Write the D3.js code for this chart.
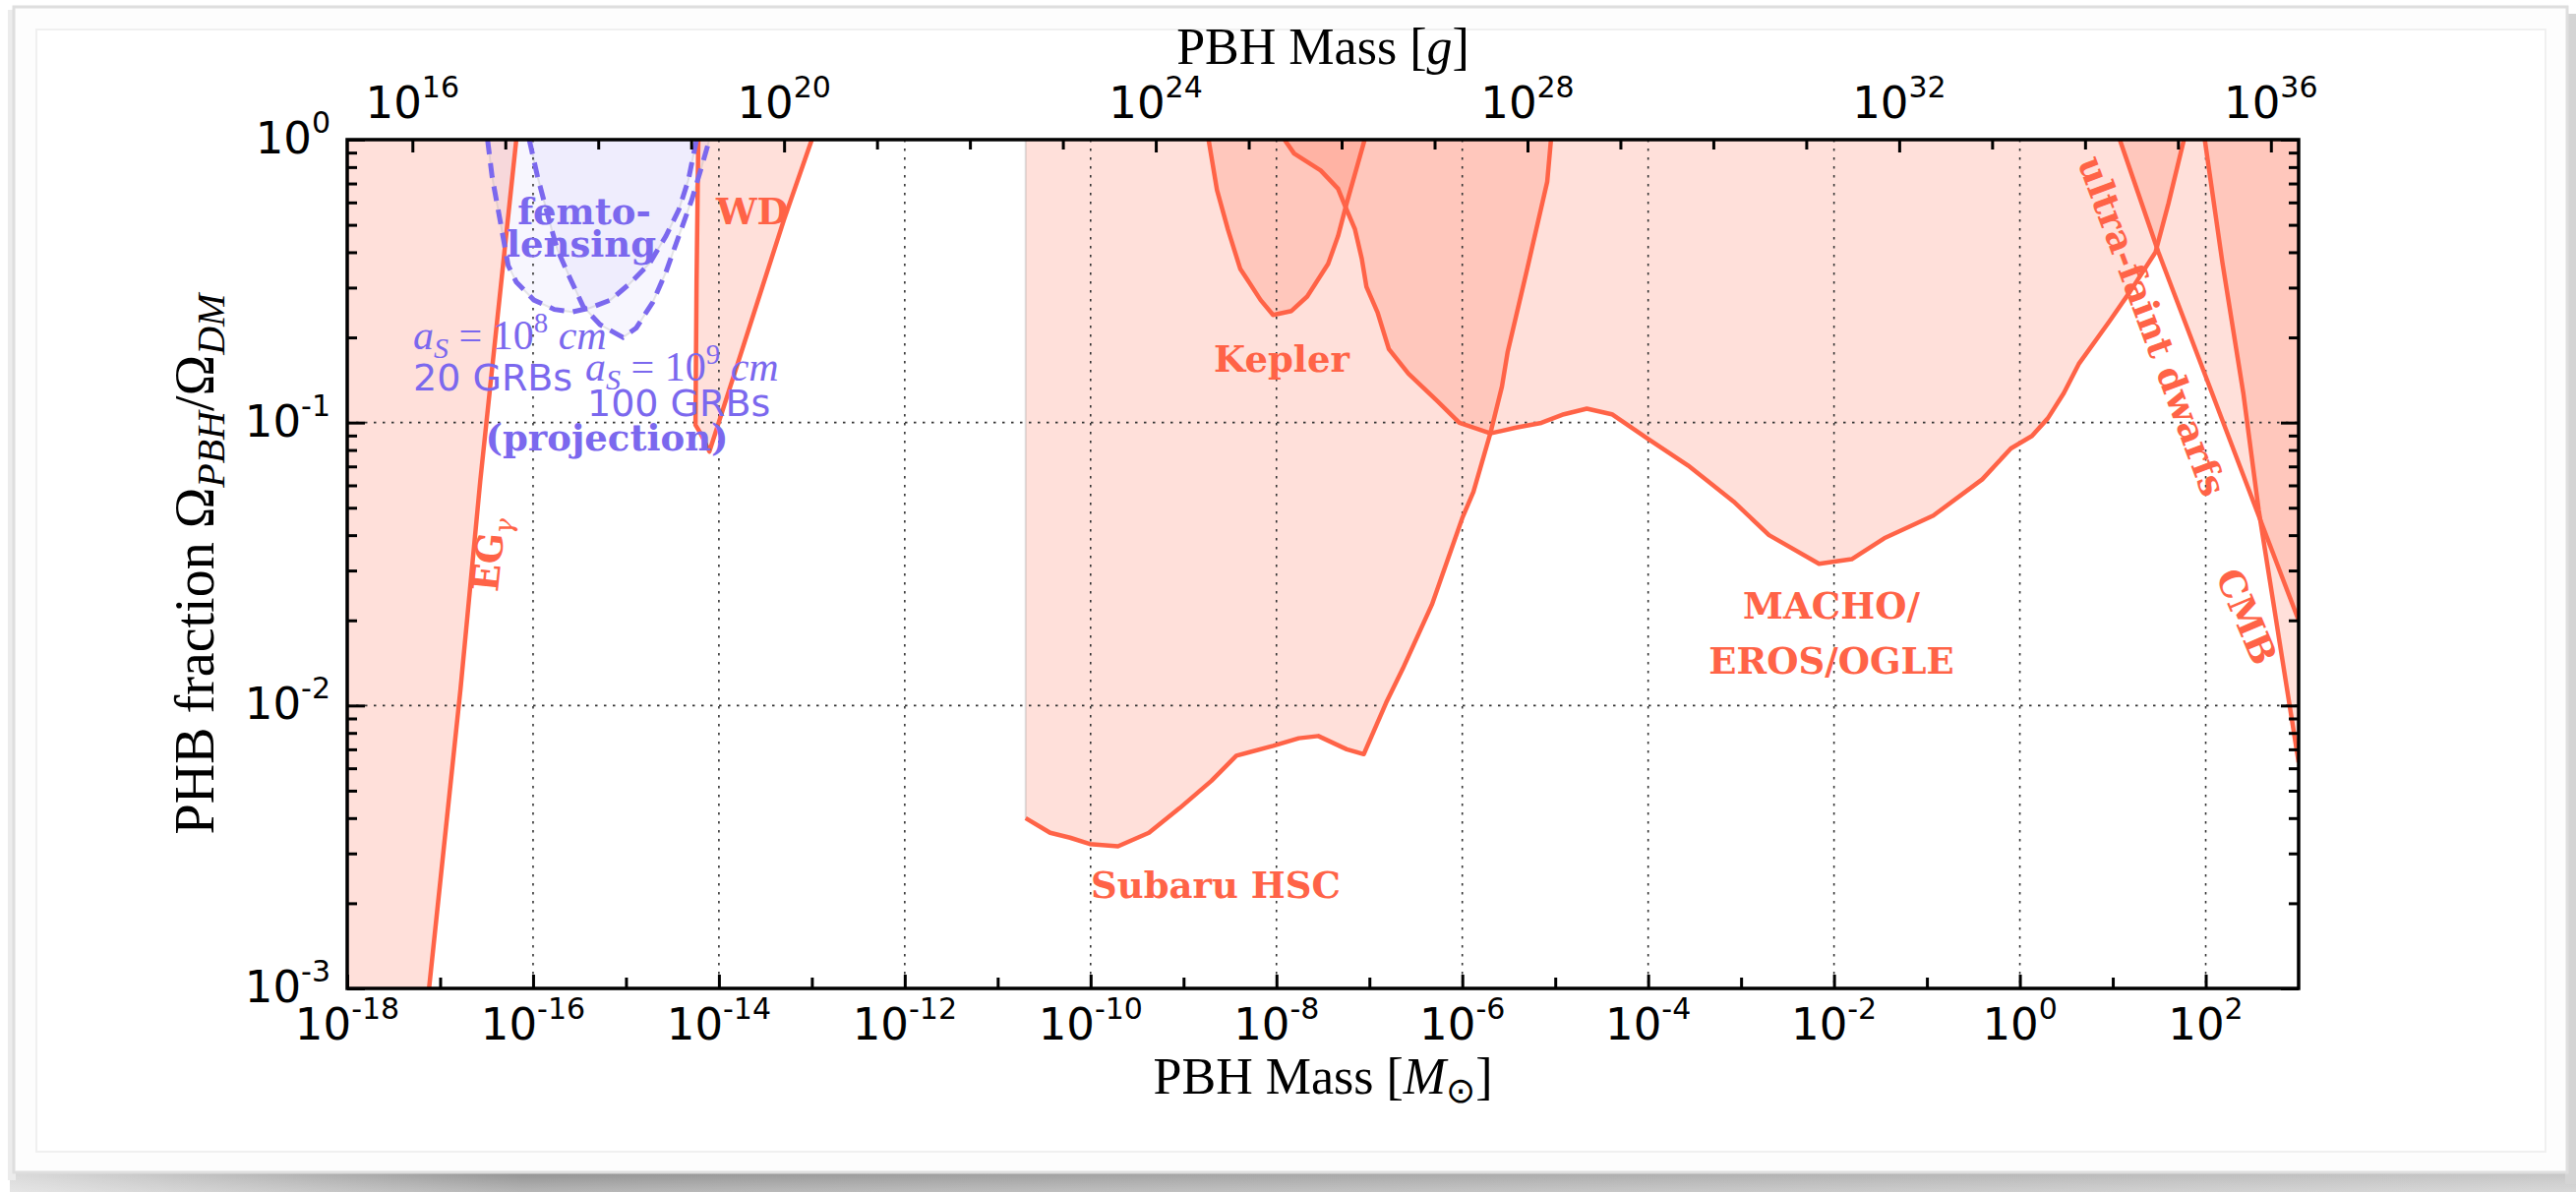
<!DOCTYPE html>
<html><head><meta charset="utf-8">
<script src="https://cdn.jsdelivr.net/npm/d3@7"></script>
<style>html,body{margin:0;padding:0;background:#fff;overflow:hidden}svg{display:block}</style>
</head><body>
<svg id="chart" width="2619" height="1212"></svg>
<script>
// ---------------- data (mass in solar masses, fraction f = Omega_PBH/Omega_DM) ----------------
const MSUN_G = 1.989e33;               // grams per solar mass (top axis)
const xDomain = [1e-18, 1e3];
const yDomain = [1e-3, 1];
const bottomTickExps = [-18,-16,-14,-12,-10,-8,-6,-4,-2,0,2];
const bottomMinorExps = [-17,-15,-13,-11,-9,-7,-5,-3,-1,1];
const topTickExps = [16,20,24,28,32,36];
const topMinorExps = [17,18,19,21,22,23,25,26,27,29,30,31,33,34,35];
const leftTickExps = [-3,-2,-1,0];
const gridXExps = [-16,-14,-12,-10,-8,-6,-4,-2,0,2];
const gridYExps = [-2,-1];

const egGamma = [[6.6e-17,1],[2.7e-17,6.2e-2],[1.66e-17,1.15e-2],[7.6e-18,1e-3]];
const whiteDwarfs = [[6.0e-15,1],[5.75e-15,0.316],[5.6e-15,0.098],[6.3e-15,0.092],[7.9e-15,0.079],[5.0e-14,0.52],[1.0e-13,1]];
const subaruHSC = [[2.0e-11,4.0e-3],[3.67e-11,3.55e-3],[6.0e-11,3.41e-3],[9.8e-11,3.24e-3],[1.97e-10,3.18e-3],
  [4.24e-10,3.55e-3],[9.1e-10,4.34e-3],[2.0e-9,5.42e-3],[3.7e-9,6.65e-3],[9.2e-9,7.2e-3],[1.74e-8,7.66e-3],
  [2.82e-8,7.8e-3],[5.7e-8,7.0e-3],[8.7e-8,6.73e-3],[1.51e-7,1.02e-2],[2.29e-7,1.35e-2],[4.7e-7,2.27e-2],
  [1.0e-6,4.6e-2],[1.32e-6,5.7e-2],[2.01e-6,9.2e-2],[2.67e-6,0.134],[3.07e-6,0.177],[5.0e-6,0.35],[8.2e-6,0.71],[9.0e-6,1]];
const kepler = [[1.86e-9,1],[2.29e-9,0.664],[3.0e-9,0.482],[4.07e-9,0.35],[6.76e-9,0.271],[9.2e-9,0.240],
  [1.45e-8,0.248],[2.14e-8,0.279],[3.6e-8,0.364],[4.6e-8,0.456],[5.7e-8,0.596],[8.9e-8,1]];
const machoErosOgle = [[1.22e-8,1],[1.55e-8,0.893],[3.0e-8,0.778],[4.6e-8,0.671],[5.5e-8,0.581],[7.0e-8,0.482],
  [8.3e-8,0.378],[9.3e-8,0.302],[1.23e-7,0.244],[1.62e-7,0.182],[2.63e-7,0.149],[5.4e-7,0.119],[9.3e-7,0.0998],
  [2.01e-6,0.0916],[3.8e-6,0.096],[7.1e-6,0.0998],[1.24e-5,0.107],[2.19e-5,0.112],[4.07e-5,0.107],[1.01e-4,0.0873],
  [2.69e-4,0.0705],[8.3e-4,0.0526],[2.0e-3,0.040],[6.9e-3,0.0317],[1.55e-2,0.0329],[3.47e-2,0.039],[0.117,0.0469],
  [0.394,0.063],[0.80,0.081],[1.35,0.0897],[2.0,0.1035],[2.97,0.127],[4.3,0.161],[9.2,0.228],[15.3,0.29],
  [28.8,0.40],[39.8,0.596],[58.3,1]];
const ultraFaintDwarfs = [[11.9,1],[31,0.40],[400,0.044],[1000,0.020]];
const cmb = [[97.7,1],[151,0.369],[254,0.127],[372,0.049],[1000,6.3e-3]];
const femto20GRB = [[3.24e-17,1],[3.63e-17,0.738],[4.47e-17,0.508],[5.4e-17,0.359],[6.6e-17,0.314],[1.02e-16,0.271],
  [1.7e-16,0.251],[2.63e-16,0.246],[4.07e-16,0.254],[6.8e-16,0.271],[1.1e-15,0.31],[1.78e-15,0.364],[2.69e-15,0.456],
  [3.7e-15,0.565],[4.68e-15,0.718],[5.75e-15,1]];
const femto100GRB = [[9.1e-17,1],[1.12e-16,0.738],[1.45e-16,0.536],[1.82e-16,0.41],[2.51e-16,0.323],[3.47e-16,0.257],
  [5.25e-16,0.222],[9.3e-16,0.2],[1.29e-15,0.216],[1.95e-15,0.267],[2.69e-15,0.34],[3.7e-15,0.456],[5.1e-15,0.612],
  [6.5e-15,0.8],[7.9e-15,1]];

// ---------------- layout ----------------
const RED = '#ff6347', BLUE = '#7b68ee';
const P = {left:353, top:142, right:2337, bottom:1005};
const svg = d3.select('#chart');
const x = d3.scaleLog().domain(xDomain).range([P.left, P.right]);
const y = d3.scaleLog().domain(yDomain).range([P.bottom, P.top]);
const xg = d3.scaleLog().domain(xDomain.map(v => v*MSUN_G)).range([P.left, P.right]);

// ---------------- card / frame ----------------
const defs = svg.append('defs');
const gb = defs.append('linearGradient').attr('id','shB').attr('x1',0).attr('x2',1).attr('y1',0).attr('y2',0);
gb.append('stop').attr('offset','0').attr('stop-color','#d8d8d8');
gb.append('stop').attr('offset','0.2').attr('stop-color','#8f8f8f');
gb.append('stop').attr('offset','0.6').attr('stop-color','#a8a8a8');
gb.append('stop').attr('offset','1').attr('stop-color','#c4c4c4');
const gv = defs.append('linearGradient').attr('id','shV').attr('x1',0).attr('x2',0).attr('y1',0).attr('y2',1);
gv.append('stop').attr('offset','0').attr('stop-color','#fff').attr('stop-opacity',0);
gv.append('stop').attr('offset','1').attr('stop-color','#fff').attr('stop-opacity',0.35);
svg.append('rect').attr('width',2619).attr('height',1212).attr('fill','#fff');
svg.append('rect').attr('x',10).attr('y',1190).attr('width',2609).attr('height',22).attr('fill','url(#shB)');
svg.append('rect').attr('x',10).attr('y',1190).attr('width',2609).attr('height',22).attr('fill','url(#shV)');
svg.append('rect').attr('x',2608).attr('y',14).attr('width',11).attr('height',1190).attr('fill','#d4d4d4');
svg.append('rect').attr('x',8).attr('y',10).attr('width',8).attr('height',1190).attr('fill','#ececec');
svg.append('rect').attr('x',14).attr('y',7).attr('width',2596).attr('height',1185)
  .attr('fill','#fdfdfd').attr('stroke','#dedede').attr('stroke-width',3);
svg.append('rect').attr('x',37).attr('y',30).attr('width',2551).attr('height',1141)
  .attr('fill','#fff').attr('stroke','#f0f0f0').attr('stroke-width',2);

// ---------------- plot ----------------
defs.append('clipPath').attr('id','clip').append('rect')
  .attr('x',P.left).attr('y',P.top).attr('width',P.right-P.left).attr('height',P.bottom-P.top);
const plot = svg.append('g').attr('clip-path','url(#clip)');
const line = d3.line().x(d => x(d[0])).y(d => y(d[1]));
const poly = pts => line(pts) + 'Z';
const [xmin, xmax] = xDomain, [ymin, ymax] = yDomain;

const redFills = [
  [[xmin,ymax], ...egGamma, [xmin,ymin]],
  whiteDwarfs,
  [[subaruHSC[0][0], ymax], ...subaruHSC],
  kepler,
  machoErosOgle,
  [...ultraFaintDwarfs, [xmax,ymax]],
  [...cmb, [xmax,ymax]]
];
plot.selectAll('path.rf').data(redFills).join('path').attr('class','rf')
  .attr('d', poly).attr('fill', RED).attr('fill-opacity',0.2)
  .attr('stroke','#a0a0a0').attr('stroke-opacity',0.35).attr('stroke-width',2);
plot.selectAll('path.bf').data([femto20GRB, femto100GRB]).join('path').attr('class','bf')
  .attr('d', poly).attr('fill', BLUE).attr('fill-opacity',0.06)
  .attr('stroke','#b0b0b0').attr('stroke-opacity',0.3).attr('stroke-width',2);

// grid
const grid = plot.append('g').attr('stroke','#333').attr('stroke-width',1.6).attr('stroke-dasharray','2.5,6.5');
grid.selectAll('line.gx').data(gridXExps).join('line').attr('class','gx')
  .attr('x1', e => x(Math.pow(10,e))).attr('x2', e => x(Math.pow(10,e)))
  .attr('y1', P.top).attr('y2', P.bottom);
grid.selectAll('line.gy').data(gridYExps).join('line').attr('class','gy')
  .attr('y1', e => y(Math.pow(10,e))).attr('y2', e => y(Math.pow(10,e)))
  .attr('x1', P.left).attr('x2', P.right);

// constraint lines
plot.selectAll('path.rl').data([egGamma, whiteDwarfs, subaruHSC, kepler, machoErosOgle, ultraFaintDwarfs, cmb])
  .join('path').attr('class','rl').attr('d', line).attr('fill','none')
  .attr('stroke', RED).attr('stroke-width',4.5).attr('stroke-linejoin','round');
plot.selectAll('path.bl').data([femto20GRB, femto100GRB]).join('path').attr('class','bl')
  .attr('d', line).attr('fill','none').attr('stroke', BLUE).attr('stroke-width',5)
  .attr('stroke-dasharray','15,9');

// ---------------- axes ----------------
const axes = svg.append('g');
function styleAxis(g){ g.select('.domain').remove(); g.selectAll('.tick line').attr('stroke','#000').attr('stroke-width',3); g.selectAll('.tick text').remove(); }
const pow10 = a => a.map(e => Math.pow(10,e));
axes.append('g').attr('transform',`translate(0,${P.bottom})`)
  .call(d3.axisBottom(x).tickValues(pow10(bottomTickExps)).tickSize(-14)).call(styleAxis);
axes.append('g').attr('transform',`translate(0,${P.bottom})`)
  .call(d3.axisBottom(x).tickValues(pow10(bottomMinorExps)).tickSize(-11)).call(styleAxis);
axes.append('g').attr('transform',`translate(0,${P.top})`)
  .call(d3.axisTop(xg).tickValues(pow10(topTickExps)).tickSize(-13)).call(styleAxis);
axes.append('g').attr('transform',`translate(0,${P.top})`)
  .call(d3.axisTop(xg).tickValues(pow10(topMinorExps)).tickSize(-10)).call(styleAxis);
const yMinor = [];
for (let e = -3; e < 0; e++) for (let k = 2; k <= 9; k++) yMinor.push(k*Math.pow(10,e));
[[P.left, d3.axisLeft], [P.right, d3.axisRight]].forEach(([px, ax]) => {
  axes.append('g').attr('transform',`translate(${px},0)`)
    .call(ax(y).tickValues(pow10(leftTickExps)).tickSize(-18)).call(styleAxis);
  axes.append('g').attr('transform',`translate(${px},0)`)
    .call(ax(y).tickValues(yMinor).tickSize(-10)).call(styleAxis);
});
axes.append('rect').attr('x',P.left).attr('y',P.top).attr('width',P.right-P.left).attr('height',P.bottom-P.top)
  .attr('fill','none').attr('stroke','#000').attr('stroke-width',3.5);

// tick labels with superscripts
function powLabel(g, px, py, anchor, exp){
  const t = g.append('text').attr('x',px).attr('y',py).attr('text-anchor',anchor)
    .attr('font-family','DejaVu Sans').attr('font-size',45).attr('fill','#000');
  t.append('tspan').text('10');
  t.append('tspan').attr('font-size',30).attr('dy',-21).text(exp);
}
const lab = svg.append('g');
bottomTickExps.forEach(e => powLabel(lab, x(Math.pow(10,e)), 1057, 'middle', e === 0 ? '0' : String(e)));
topTickExps.forEach(e => powLabel(lab, xg(Math.pow(10,e)), 120, 'middle', String(e)));
leftTickExps.forEach(e => powLabel(lab, 336, y(Math.pow(10,e)) + 14, 'end', e === 0 ? '0' : String(e)));

// axis titles
const serif = 'Liberation Serif';
const tTop = svg.append('text').attr('x',(P.left+P.right)/2).attr('y',65).attr('text-anchor','middle')
  .attr('font-family',serif).attr('font-size',52);
tTop.append('tspan').text('PBH Mass [');
tTop.append('tspan').attr('font-style','italic').text('g');
tTop.append('tspan').text(']');
const tBot = svg.append('text').attr('x',(P.left+P.right)/2).attr('y',1112).attr('text-anchor','middle')
  .attr('font-family',serif).attr('font-size',52);
tBot.append('tspan').text('PBH Mass [');
tBot.append('tspan').attr('font-style','italic').text('M');
tBot.append('tspan').attr('font-size',36).attr('dy',9).text('⊙');
tBot.append('tspan').attr('dy',-9).text(']');
const tY = svg.append('text').attr('transform',`translate(217,${(P.top+P.bottom)/2}) rotate(-90)`)
  .attr('text-anchor','middle').attr('font-family',serif).attr('font-size',56);
tY.append('tspan').text('PHB fraction Ω');
tY.append('tspan').attr('font-style','italic').attr('font-size',40).attr('dy',11).text('PBH');
tY.append('tspan').attr('dy',-11).text('/Ω');
tY.append('tspan').attr('font-style','italic').attr('font-size',40).attr('dy',11).text('DM');

// ---------------- annotations ----------------
const ann = svg.append('g').attr('font-family','DejaVu Serif').attr('font-weight','bold').attr('font-size',37);
function note(txt, px, py, color, anchor='middle', rot=0){
  return ann.append('text').attr('transform',`translate(${px},${py}) rotate(${rot})`)
    .attr('text-anchor',anchor).attr('fill',color).text(txt);
}
note('femto-', 594, 228, BLUE);
note('lensing', 591, 261, BLUE);
note('(projection)', 617, 458, BLUE);
note('WD', 728, 228, RED, 'start');
note('Kepler', 1303, 378, RED);
note('Subaru HSC', 1236, 913, RED);
note('MACHO/', 1862, 629, RED);
note('EROS/OGLE', 1862, 685, RED);
note('ultra-faint dwarfs', 2176, 336, RED, 'middle', 69.5);
note('CMB', 2272, 632, RED, 'middle', 67);
const eg = note('EG', 510, 565, RED, 'middle', -84).text(null);
eg.append('tspan').text('EG');
eg.append('tspan').attr('font-size',26).attr('font-weight','normal').attr('font-style','italic').attr('dy',8).text('γ');

function asLabel(px, py, exp){
  const t = svg.append('text').attr('x',px).attr('y',py).attr('font-family',serif).attr('font-size',42).attr('fill',BLUE);
  t.append('tspan').attr('font-style','italic').text('a');
  t.append('tspan').attr('font-style','italic').attr('font-size',30).attr('dy',9).text('S');
  t.append('tspan').attr('dy',-9).text(' = 10');
  t.append('tspan').attr('font-size',29).attr('dy',-17).text(exp);
  t.append('tspan').attr('font-style','italic').attr('dy',17).text(' cm');
}
asLabel(420, 355, '8');
asLabel(595, 387, '9');
const sans = svg.append('g').attr('font-family','DejaVu Sans').attr('font-size',38).attr('fill',BLUE);
sans.append('text').attr('x',420).attr('y',397).text('20 GRBs');
sans.append('text').attr('x',597).attr('y',423).text('100 GRBs');
</script>
</body></html>
